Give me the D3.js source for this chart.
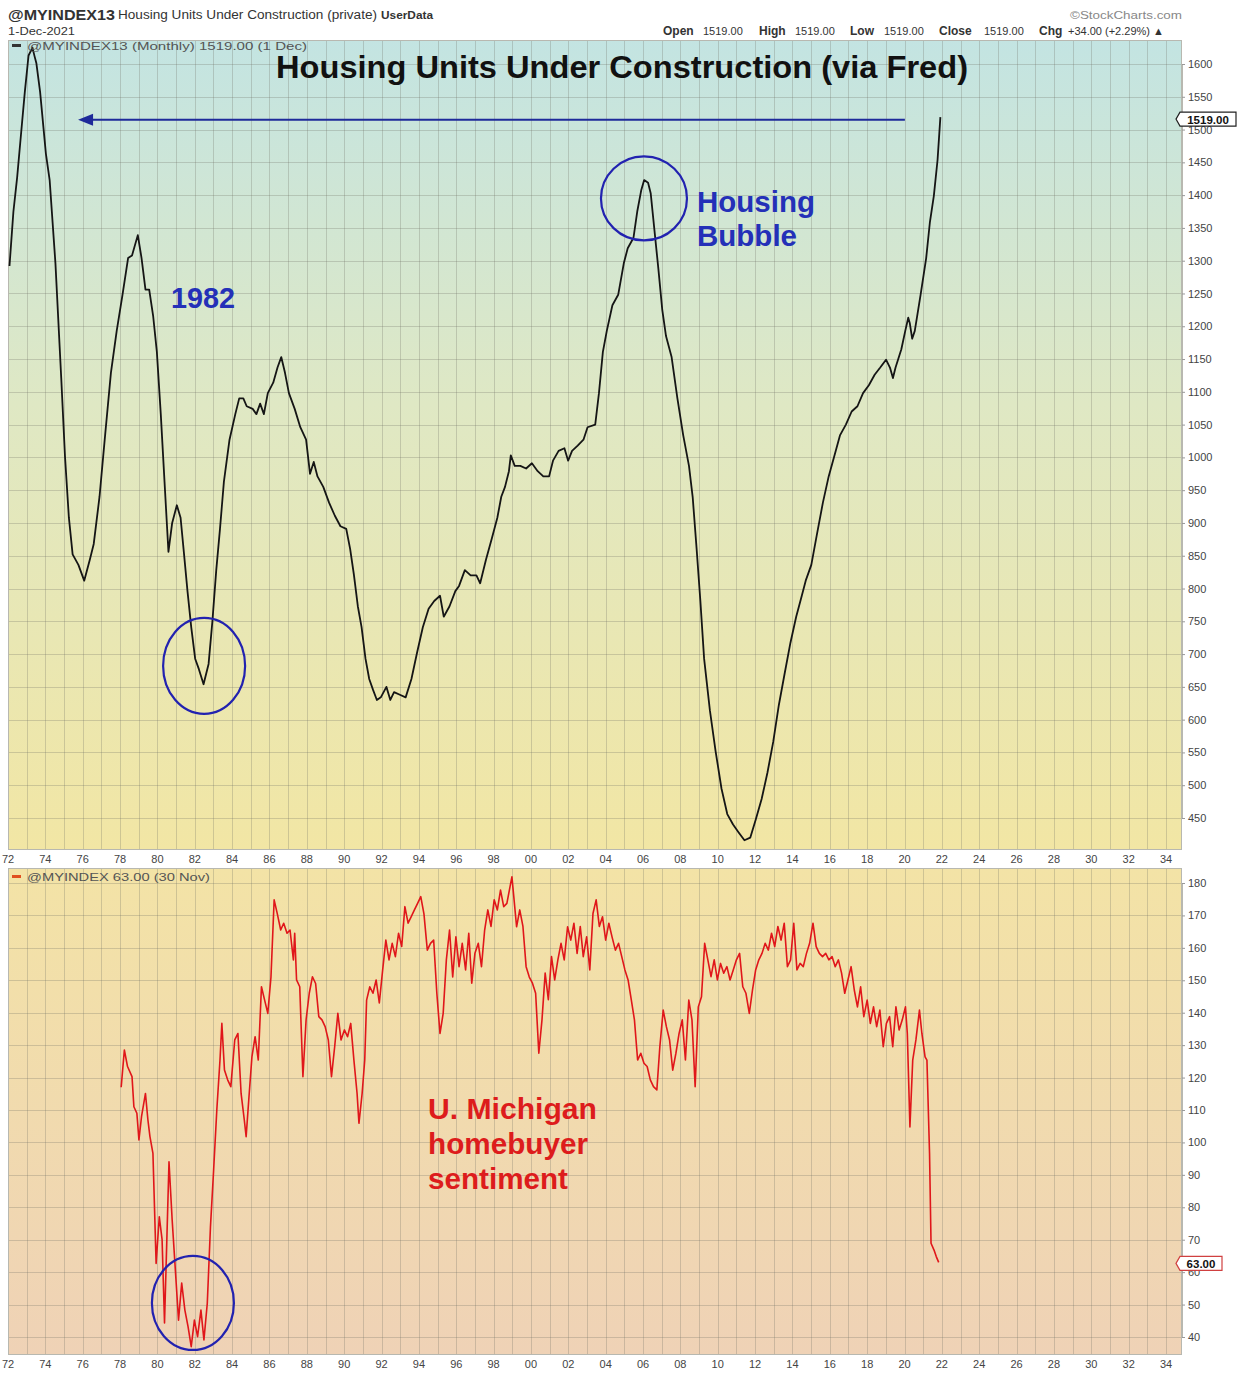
<!DOCTYPE html>
<html><head><meta charset="utf-8">
<script src="https://cdn.jsdelivr.net/npm/d3@7"></script>
<style>body{margin:0;background:#fff} svg{display:block} text{font-family:"Liberation Sans",Arial,sans-serif}</style>
</head><body><svg id="c" width="1244" height="1373"></svg>
<script>
// ---------- DATA ----------
const xTickLabels = ["72","74","76","78","80","82","84","86","88","90","92","94","96","98","00","02","04","06","08","10","12","14","16","18","20","22","24","26","28","30","32","34"];
const xTickYears = [1972,1974,1976,1978,1980,1982,1984,1986,1988,1990,1992,1994,1996,1998,2000,2002,2004,2006,2008,2010,2012,2014,2016,2018,2020,2022,2024,2026,2028,2030,2032,2034];
const housingTicks = [450,500,550,600,650,700,750,800,850,900,950,1000,1050,1100,1150,1200,1250,1300,1350,1400,1450,1500,1550,1600];
const sentimentTicks = [40,50,60,70,80,90,100,110,120,130,140,150,160,170,180];

const housingYears = [1972.08,1972.29,1972.49,1972.7,1972.9,1973.1,1973.31,1973.42,1973.52,1973.72,1974.03,1974.23,1974.54,1974.85,1975.05,1975.26,1975.46,1975.77,1976.08,1976.38,1976.59,1976.9,1977.2,1977.51,1977.82,1978.13,1978.43,1978.64,1978.95,1979.15,1979.36,1979.56,1979.77,1979.97,1980.18,1980.38,1980.59,1980.79,1981.04,1981.24,1981.4,1981.61,1981.81,1982.02,1982.22,1982.47,1982.74,1982.94,1983.15,1983.35,1983.56,1983.86,1984.17,1984.38,1984.6,1984.78,1985.1,1985.3,1985.5,1985.7,1985.91,1986.2,1986.43,1986.63,1986.83,1987.04,1987.35,1987.65,1987.96,1988.17,1988.37,1988.57,1988.88,1989.19,1989.5,1989.8,1990.11,1990.32,1990.52,1990.73,1990.93,1991.14,1991.34,1991.55,1991.75,1991.96,1992.26,1992.47,1992.67,1992.98,1993.29,1993.6,1993.9,1994.21,1994.52,1994.82,1995.13,1995.33,1995.64,1995.95,1996.15,1996.46,1996.77,1997.08,1997.28,1997.59,1997.9,1998.2,1998.41,1998.61,1998.82,1998.92,1999.13,1999.43,1999.74,2000.05,2000.36,2000.66,2000.97,2001.18,2001.48,2001.79,2001.99,2002.2,2002.5,2002.81,2003.03,2003.44,2003.64,2003.85,2004.06,2004.36,2004.67,2004.97,2005.18,2005.49,2005.69,2005.9,2006.06,2006.27,2006.41,2006.62,2006.82,2007.03,2007.23,2007.53,2007.84,2008.15,2008.46,2008.66,2008.87,2009.07,2009.27,2009.58,2009.89,2010.2,2010.51,2010.82,2011.12,2011.43,2011.74,2012.04,2012.35,2012.66,2012.97,2013.27,2013.58,2013.89,2014.2,2014.5,2014.71,2015.01,2015.32,2015.63,2015.94,2016.25,2016.55,2016.86,2017.17,2017.48,2017.78,2018.09,2018.4,2018.7,2019.01,2019.22,2019.38,2019.52,2019.83,2020.04,2020.2,2020.28,2020.41,2020.55,2020.86,2021.16,2021.36,2021.57,2021.77,2021.92];
const housingValues = [1292,1375,1427,1494,1557,1613,1625,1612,1601,1557,1463,1423,1296,1121,1002,908,852,836,812,844,868,940,1034,1129,1193,1248,1304,1308,1339,1304,1256,1256,1216,1161,1066,963,856,900,927,908,860,796,741,693,677,654,685,749,828,891,963,1027,1066,1090,1090,1078,1074,1066,1082,1066,1098,1114,1137,1153,1129,1098,1074,1046,1027,975,993,971,955,931,911,895,891,860,821,773,741,693,662,645,630,634,650,630,642,638,634,662,702,741,769,781,789,757,773,796,804,828,820,820,808,844,876,908,940,955,979,1003,987,987,983,991,979,971,971,995,1010,1014,995,1010,1018,1027,1046,1050,1098,1161,1193,1232,1248,1296,1319,1335,1375,1407,1423,1419,1403,1344,1288,1225,1185,1153,1090,1034,987,939,860,781,693,614,551,495,456,440,428,416,420,448,479,519,566,622,670,717,757,789,812,836,884,931,971,1003,1034,1050,1070,1078,1098,1110,1126,1137,1149,1137,1121,1137,1165,1193,1213,1205,1181,1193,1248,1304,1359,1399,1454,1519];

const sentimentYears = [1978.06,1978.23,1978.4,1978.64,1978.74,1978.9,1979.01,1979.15,1979.36,1979.49,1979.6,1979.76,1979.93,1980.1,1980.25,1980.38,1980.62,1980.79,1980.96,1981.13,1981.3,1981.47,1981.64,1981.81,1981.98,1982.15,1982.33,1982.49,1982.67,1982.84,1983.01,1983.18,1983.35,1983.45,1983.59,1983.76,1983.93,1984.14,1984.31,1984.48,1984.65,1984.75,1984.89,1985.06,1985.23,1985.4,1985.57,1985.74,1985.91,1986.08,1986.25,1986.42,1986.6,1986.76,1986.94,1987.1,1987.28,1987.35,1987.45,1987.62,1987.79,1987.96,1988.13,1988.3,1988.47,1988.64,1988.81,1988.98,1989.15,1989.32,1989.49,1989.66,1989.83,1990.01,1990.18,1990.35,1990.52,1990.69,1990.79,1990.96,1991.1,1991.2,1991.37,1991.54,1991.71,1991.88,1992.06,1992.23,1992.4,1992.57,1992.74,1992.91,1993.08,1993.25,1993.42,1993.59,1993.76,1993.93,1994.1,1994.27,1994.45,1994.62,1994.79,1994.96,1995.13,1995.3,1995.47,1995.64,1995.81,1995.98,1996.15,1996.32,1996.5,1996.67,1996.83,1997.0,1997.18,1997.35,1997.52,1997.69,1997.86,1998.03,1998.2,1998.37,1998.54,1998.71,1998.88,1998.98,1999.08,1999.23,1999.4,1999.57,1999.74,1999.91,2000.08,2000.25,2000.42,2000.59,2000.76,2000.93,2001.1,2001.27,2001.44,2001.61,2001.78,2001.96,2002.13,2002.3,2002.47,2002.64,2002.8,2002.98,2003.15,2003.32,2003.49,2003.66,2003.83,2004.0,2004.17,2004.34,2004.52,2004.69,2004.86,2005.03,2005.2,2005.37,2005.54,2005.71,2005.88,2006.05,2006.22,2006.39,2006.56,2006.74,2006.9,2007.08,2007.25,2007.42,2007.59,2007.76,2007.93,2008.1,2008.27,2008.45,2008.62,2008.79,2008.96,2009.13,2009.3,2009.47,2009.64,2009.81,2009.98,2010.15,2010.32,2010.49,2010.66,2010.83,2011.0,2011.17,2011.34,2011.51,2011.69,2011.86,2012.03,2012.2,2012.37,2012.54,2012.71,2012.88,2013.05,2013.22,2013.39,2013.56,2013.73,2013.9,2014.07,2014.24,2014.41,2014.58,2014.75,2014.92,2015.1,2015.27,2015.44,2015.61,2015.78,2015.95,2016.12,2016.29,2016.46,2016.63,2016.8,2016.97,2017.14,2017.31,2017.48,2017.65,2017.82,2018.0,2018.17,2018.34,2018.51,2018.68,2018.86,2019.03,2019.2,2019.37,2019.54,2019.71,2019.88,2020.05,2020.15,2020.29,2020.44,2020.61,2020.8,2020.93,2021.1,2021.2,2021.34,2021.42,2021.58,2021.7,2021.83];
const sentimentValues = [117,128.5,123.4,120.3,111,109,100.8,108,115.1,107,101.8,96.6,62.7,77.1,70,44.3,94,76,60.7,45.2,56.6,48.3,43.2,37,45.2,40.1,48.3,39.1,50.4,74,91.5,110,125.4,136.7,122.3,119.3,117.2,131.6,133.6,115.1,107,101.8,113.1,126.4,132.6,125.4,148,143.9,139.8,151,174.8,170.5,165.5,167.6,164.5,165.5,156.3,164.5,150.1,148,120.3,137.8,146,151.1,149,138.8,137.8,135.7,131.6,120.3,129.5,139.8,131.6,134.7,132.6,136.7,125.4,115.1,105.9,115.1,125.4,143.9,148,146,150.1,143,153.2,162.4,156.3,161.4,157.3,164.5,160.4,172.7,167.6,169.6,171.7,173.7,175.8,170.5,159.3,161.4,162.4,146,133.6,139.8,156.3,165.5,151,163.4,154.2,161.4,153.2,164.5,149.1,158.3,161.4,154.2,165.5,171.7,166.6,174.8,171.7,177.8,172.7,173.7,178.9,181.9,175.8,166.5,171.7,166.6,154.2,151,149.1,146,127.5,137.8,152.2,144,157.3,150.1,156.3,161.4,156.3,166.5,162.4,167.6,158.3,166.6,157.3,163.4,153.2,170.6,174.8,166.6,169.6,162.4,167.6,163.4,159.3,161.4,157.3,153.2,150.1,144,137.8,125.4,127.5,124.4,123.4,119.3,117.2,116.2,129.5,140.8,135.7,131.6,122.3,127.5,133.6,137.8,125.4,143.9,137.8,117.2,141.8,144.9,161.4,156.3,151.1,156.3,150.1,155.2,152.2,154.2,150.1,153.2,156.3,158.3,148,146,139.8,147,153.2,156.3,158.3,161.4,159.3,164.5,160.4,166.6,162.4,167.6,154.2,156.3,167.6,153.2,155.2,154.2,158.3,161.4,167.6,160.4,158.3,157.3,158.3,156.3,157.3,154.2,156.3,152.2,146,150.1,154.2,147,141.8,148,138.8,143.9,136.7,141.8,135.7,140.8,129.5,136.7,138.8,129.5,141.8,134.7,137.8,141.8,133.6,104.8,125.4,131.6,140.8,133.6,126.4,125.4,96.6,68.9,66.8,64.8,63];

// ---------- LAYOUT ----------
const svg = d3.select("#c");
const L = 8, R = 1182;
const top1 = 40, bot1 = 850, top2 = 868, bot2 = 1355;
const x = d3.scaleLinear().domain([1972, 2034]).range([8, 1166]);
const yH = d3.scaleLinear().domain([450, 1600]).range([818, 64]);
const yS = d3.scaleLinear().domain([40, 180]).range([1337, 883]);

const defs = svg.append("defs");
const g1 = defs.append("linearGradient").attr("id","bg1").attr("x1",0).attr("y1",0).attr("x2",0).attr("y2",1);
g1.append("stop").attr("offset","0%").attr("stop-color","#c3e4e2");
g1.append("stop").attr("offset","45%").attr("stop-color","#dfe8c4");
g1.append("stop").attr("offset","100%").attr("stop-color","#f2e6a4");
const g2 = defs.append("linearGradient").attr("id","bg2").attr("x1",0).attr("y1",0).attr("x2",0).attr("y2",1);
g2.append("stop").attr("offset","0%").attr("stop-color","#f3e3a6");
g2.append("stop").attr("offset","100%").attr("stop-color","#efd2b6");
defs.append("clipPath").attr("id","cl1").append("rect").attr("x",L).attr("y",top1).attr("width",R-L).attr("height",bot1-top1);
defs.append("clipPath").attr("id","cl2").append("rect").attr("x",L).attr("y",top2).attr("width",R-L).attr("height",bot2-top2);

svg.append("rect").attr("x",L).attr("y",top1).attr("width",R-L).attr("height",bot1-top1).attr("fill","url(#bg1)");
svg.append("rect").attr("x",L).attr("y",top2).attr("width",R-L).attr("height",bot2-top2).attr("fill","url(#bg2)");

// grid
const years = d3.range(1972, 2035);
function grid(top, bot, yscale, ticks, clip){
  const gg = svg.append("g").attr("clip-path", `url(#${clip})`).attr("stroke","rgba(110,110,100,0.28)").attr("stroke-width",1);
  gg.selectAll("line.v").data(years).join("line").attr("x1",d=>Math.round(x(d))+0.5).attr("x2",d=>Math.round(x(d))+0.5).attr("y1",top).attr("y2",bot);
  gg.selectAll("line.h").data(ticks).join("line").attr("x1",L).attr("x2",R).attr("y1",d=>Math.round(yscale(d))+0.5).attr("y2",d=>Math.round(yscale(d))+0.5);
}
grid(top1, bot1, yH, housingTicks, "cl1");
grid(top2, bot2, yS, sentimentTicks, "cl2");

// borders
svg.append("rect").attr("x",L+0.5).attr("y",top1+0.5).attr("width",R-L-1).attr("height",bot1-top1-1).attr("fill","none").attr("stroke","#b8b8b0");
svg.append("rect").attr("x",L+0.5).attr("y",top2+0.5).attr("width",R-L-1).attr("height",bot2-top2-1).attr("fill","none").attr("stroke","#b8b8b0");

// right axes
const axH = svg.append("g").attr("transform",`translate(${R},0)`).call(d3.axisRight(yH).tickValues(housingTicks).tickSize(3).tickPadding(3).tickFormat(d3.format("d")));
const axS = svg.append("g").attr("transform",`translate(${R},0)`).call(d3.axisRight(yS).tickValues(sentimentTicks).tickSize(3).tickPadding(3).tickFormat(d3.format("d")));
[axH, axS].forEach(a=>{
  a.select(".domain").attr("stroke","#b8b8b0");
  a.selectAll(".tick line").attr("stroke","#999");
  a.selectAll("text").attr("font-size",11).attr("fill","#444").attr("font-family","Liberation Sans, Arial, sans-serif");
});

// bottom axes (year labels)
function xLabels(yPos){
  svg.append("g").selectAll("text").data(xTickYears).join("text")
    .attr("x",d=>x(d)).attr("y",yPos).attr("text-anchor","middle")
    .attr("font-size",11).attr("fill","#444").text((d,i)=>xTickLabels[i]);
}
xLabels(863);
xLabels(1368);

// lines
svg.append("path").attr("clip-path","url(#cl1)")
  .datum(housingYears.map((t,i)=>[t,housingValues[i]]))
  .attr("fill","none").attr("stroke","#151515").attr("stroke-width",1.8).attr("stroke-linejoin","round")
  .attr("d", d3.line().x(d=>x(d[0])).y(d=>yH(d[1])));
svg.append("path").attr("clip-path","url(#cl2)")
  .datum(sentimentYears.map((t,i)=>[t,sentimentValues[i]]))
  .attr("fill","none").attr("stroke","#e0161a").attr("stroke-width",1.6).attr("stroke-linejoin","round")
  .attr("d", d3.line().x(d=>x(d[0])).y(d=>yS(d[1])));

// header
function txt(xp, yp, s, size, opts={}){
  const t = svg.append("text").attr("x",xp).attr("y",yp).attr("font-size",size).text(s)
    .attr("fill", opts.fill||"#222").attr("font-weight", opts.bold?"bold":"normal");
  if(opts.anchor) t.attr("text-anchor",opts.anchor);
  if(opts.len) t.attr("textLength",opts.len).attr("lengthAdjust","spacingAndGlyphs");
  if(opts.family) t.attr("font-family",opts.family);
  return t;
}
txt(8, 20, "@MYINDEX13", 15, {bold:true, len:107, fill:"#333"});
txt(118, 19, "Housing Units Under Construction (private)", 12, {len:259, fill:"#333"});
txt(381, 19, "UserData", 10, {bold:true, len:52, fill:"#333"});
txt(8, 35, "1-Dec-2021", 11, {len:67, fill:"#333"});
txt(1182, 19, "©StockCharts.com", 11, {anchor:"end", fill:"#888", len:112});
// OHLC line
const ohlc = [["Open",true,663],["1519.00",false,703],["High",true,759],["1519.00",false,795],["Low",true,850],["1519.00",false,884],["Close",true,939],["1519.00",false,984],["Chg",true,1039],["+34.00 (+2.29%) ▲",false,1068]];
ohlc.forEach(o=>txt(o[2], 35, o[0], o[1]?12:11, {bold:o[1], fill:"#333"}));

// legends
svg.append("rect").attr("x",12).attr("y",44).attr("width",9).attr("height",3).attr("fill","#333");
txt(27, 50, "@MYINDEX13 (Monthly) 1519.00 (1 Dec)", 11.5, {fill:"#555", len:280, family:"DejaVu Sans, sans-serif"});
svg.append("rect").attr("x",12).attr("y",875).attr("width",9).attr("height",3).attr("fill","#e05020");
txt(27, 881, "@MYINDEX 63.00 (30 Nov)", 11.5, {fill:"#555", len:183, family:"DejaVu Sans, sans-serif"});

// price labels
function priceTag(yp, label, stroke, w){
  const x0 = R-2, h = 14;
  svg.append("path").attr("d",`M${x0-4},${yp} L${x0},${yp-h/2} L${x0+w},${yp-h/2} L${x0+w},${yp+h/2} L${x0},${yp+h/2} Z`)
    .attr("fill","#fff").attr("stroke",stroke).attr("stroke-width",1.2);
  txt(x0+w/2, yp+4.5, label, 11.5, {bold:true, anchor:"middle", fill:"#111"});
}
priceTag(yH(1519)+2, "1519.00", "#222", 56);
priceTag(yS(63)+1, "63.00", "#d04040", 42);

// annotations
const blue = "#2430b8";
txt(622, 78, "Housing Units Under Construction (via Fred)", 31, {bold:true, anchor:"middle", len:692, fill:"#111"});
const arrowLevel = 1515;
svg.append("line").attr("x1",x(2020.02)).attr("x2",x(1976.0)).attr("y1",yH(arrowLevel)).attr("y2",yH(arrowLevel))
  .attr("stroke","#1e2a9a").attr("stroke-width",2);
svg.append("path").attr("d",`M${x(1975.75)},${yH(arrowLevel)} l15,-6 l0,12 Z`).attr("fill","#1e2a9a");
txt(171, 308, "1982", 29, {bold:true, fill:blue, len:64});
txt(697, 212, "Housing", 29, {bold:true, fill:blue, len:118});
txt(697, 246, "Bubble", 29, {bold:true, fill:blue, len:100});
txt(428, 1119, "U. Michigan", 30, {bold:true, fill:"#dd1c1c", len:169});
txt(428, 1154, "homebuyer", 30, {bold:true, fill:"#dd1c1c", len:160});
txt(428, 1189, "sentiment", 30, {bold:true, fill:"#dd1c1c", len:140});

function circ(cx, cy, rx, ry){
  svg.append("ellipse").attr("cx",cx).attr("cy",cy).attr("rx",rx).attr("ry",ry)
    .attr("fill","none").attr("stroke","#2222b0").attr("stroke-width",2.2);
}
circ(x(1982.5), yH(682), 41, 48);
circ(x(2006.05), yH(1395), 43, 42);
circ(x(1981.9), yS(50.5), 41, 47);
</script></body></html>
